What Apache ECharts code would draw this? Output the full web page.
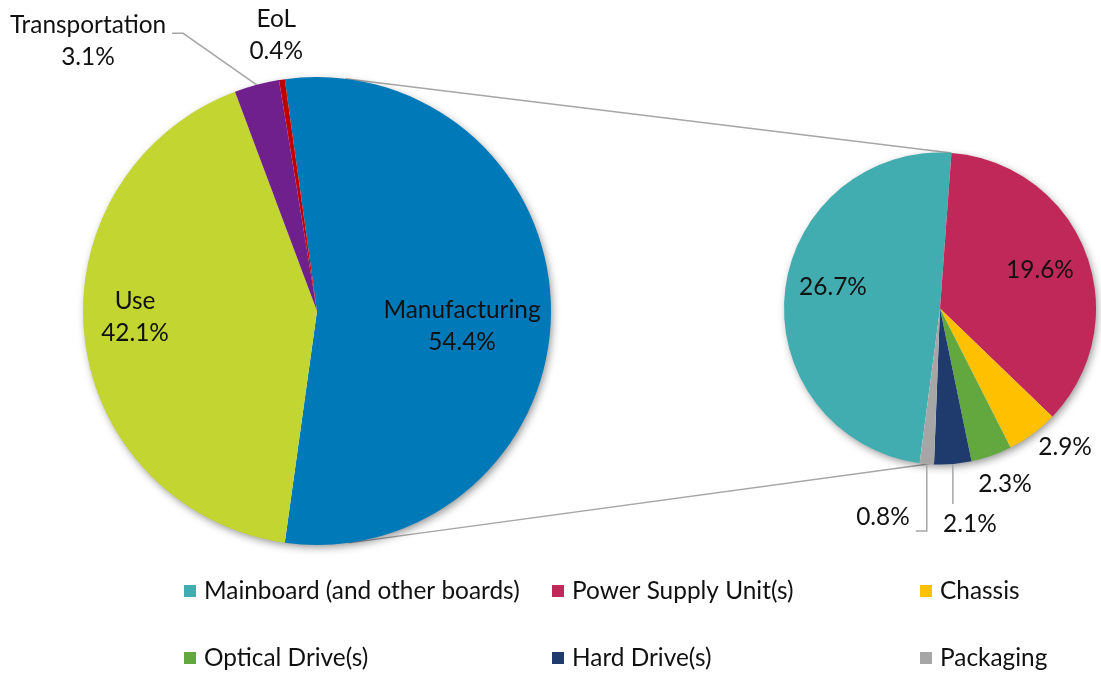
<!DOCTYPE html>
<html><head><meta charset="utf-8">
<script src="https://cdn.jsdelivr.net/npm/echarts@6/dist/echarts.min.js"></script>
<style>html,body{margin:0;padding:0;background:#fff}#c{width:1101px;height:673px}</style>
</head><body><div id="c"></div>
<script>
// ---- data ----
const mainCategories = ['Manufacturing', 'Use', 'Transportation', 'EoL'];
const mainValues = [54.4, 42.1, 3.1, 0.4];
const subCategories = ['Mainboard (and other boards)', 'Power Supply Unit(s)', 'Chassis', 'Optical Drive(s)', 'Hard Drive(s)', 'Packaging'];
const subValues = [26.7, 19.6, 2.9, 2.3, 2.1, 0.8];

// ---- style ----
const mainColors = ['#0079b8', '#c2d531', '#6f208c', '#c00000'];
const subColors = ['#42adb0', '#c0285a', '#ffc000', '#63a83e', '#1f3b6e', '#a6a6a6'];
const FONT = 'Lato';
const FS = 24.4;
const TEXT = '#111';
const LEFT = {cx: 317, cy: 311, r: 234};
const RIGHT = {cx: 940, cy: 308.5, r: 156};
const subTop = 4.2; // compass angle of the boundary at the top of the second pie
// label anchors: [compass angle, radius multiple]
const mainLabelPos = [[95.9, 0.623], [268.1, 0.778], [319.7, 1.513], [351.6, 1.192]];
const subLabelPos = [[281.4, 0.70], [68.9, 0.687], [137.9, 1.196], [159.7, 1.2], [172.1, 1.395], [195.3, 1.386]];
const mainLeaders = [null, null, 'elbowLeft', null];
const subLeaders = [null, null, null, null, 'down', 'downLeft'];
const legendX = [184, 552, 920];

const sum = a => a.reduce((s, v) => s + v, 0);
const mainSum = sum(mainValues), subSum = sum(subValues);
const mainStart = mainValues[0] / mainSum * 360 / 2;           // first slice centred at 3 o'clock
const subStart = 90 - subTop + subValues[0] / subSum * 360;     // first slice ends at the top boundary

function mids(vals, total, startMath) {
  let c = 0; const startCompass = 90 - startMath;
  return vals.map(v => { const m = startCompass + (c + v / 2) / total * 360; c += v; return m; });
}
const mainMid = mids(mainValues, mainSum, mainStart);
const subMid = mids(subValues, subSum, subStart);

function polar(g, deg, k) {
  const a = deg * Math.PI / 180;
  return [g.cx + k * g.r * Math.sin(a), g.cy - k * g.r * Math.cos(a)];
}
function tangent(g, P, sign) {
  const dx = P[0] - g.cx, dy = P[1] - g.cy, d = Math.hypot(dx, dy);
  const phi = Math.atan2(dy, dx), al = Math.acos(g.r / d);
  const a = phi + sign * al;
  return [g.cx + g.r * Math.cos(a), g.cy + g.r * Math.sin(a)];
}
const pTop = polar(RIGHT, subTop, 1), pBot = polar(RIGHT, subTop + 180, 1);
const tTop = tangent(LEFT, pTop, -1), tBot = tangent(LEFT, pBot, 1);

function placeLabel(g, pos, leaders, midArr, p) {
  const i = p.dataIndex;
  const [x, y] = polar(g, pos[i][0], pos[i][1]);
  const w = p.labelRect.width, h = p.labelRect.height;
  const out = {x: x, y: y, align: 'center', verticalAlign: 'middle'};
  const kind = leaders[i];
  if (kind) {
    const e = polar(g, midArr[i], 1);
    const R = x + w / 2, T = y - h / 2, B = y + h / 2;
    if (kind === 'elbowLeft') { const yy = T + 0.38 * h; out.labelLinePoints = [e, [R + 17, yy], [R + 6, yy]]; }
    if (kind === 'down') { out.labelLinePoints = [e, [e[0], (e[1] + T - 4) / 2], [e[0], T - 4]]; }
    if (kind === 'downLeft') { const yy = B - 2; out.labelLinePoints = [e, [e[0], yy], [R + 6, yy]]; }
  }
  return out;
}

const labelBase = {show: true, position: 'outside', color: TEXT, fontFamily: FONT, fontSize: FS, lineHeight: 32};
const lineStyle = {color: '#a6a6a6', width: 1.5};

const option = {
  animation: false,
  backgroundColor: '#fff',
  graphic: [
    {type: 'line', z: 0, silent: true, shape: {x1: tTop[0], y1: tTop[1], x2: pTop[0], y2: pTop[1]}, style: {stroke: '#a6a6a6', lineWidth: 1.5}},
    {type: 'line', z: 0, silent: true, shape: {x1: tBot[0], y1: tBot[1], x2: pBot[0], y2: pBot[1]}, style: {stroke: '#a6a6a6', lineWidth: 1.5}},
    {type: 'circle', z: 1, silent: true, shape: {cx: LEFT.cx, cy: LEFT.cy, r: LEFT.r - 1}, style: {fill: '#fff', shadowBlur: 8, shadowOffsetX: 2, shadowOffsetY: 3, shadowColor: 'rgba(0,0,0,0.45)'}},
    {type: 'circle', z: 1, silent: true, shape: {cx: RIGHT.cx, cy: RIGHT.cy, r: RIGHT.r - 1}, style: {fill: '#fff', shadowBlur: 8, shadowOffsetX: 2, shadowOffsetY: 3, shadowColor: 'rgba(0,0,0,0.45)'}}
  ],
  legend: [0, 1, 2].map(c => ({
    orient: 'vertical', left: legendX[c], top: 576, padding: 0,
    itemWidth: 12, itemHeight: 12, itemGap: 37, icon: 'rect', selectedMode: false,
    data: [subCategories[c], subCategories[c + 3]],
    textStyle: {fontFamily: FONT, fontSize: FS, color: TEXT, lineHeight: 30, padding: [0, 0, 0, 3]}
  })),
  series: [
    {
      type: 'pie', z: 2, center: [LEFT.cx, LEFT.cy], radius: LEFT.r, startAngle: mainStart, clockwise: true,
      avoidLabelOverlap: false, silent: true,
      label: Object.assign({}, labelBase, {formatter: p => p.name + '\n' + p.value.toFixed(1) + '%'}),
      labelLine: {show: true, lineStyle: lineStyle},
      labelLayout: p => placeLabel(LEFT, mainLabelPos, mainLeaders, mainMid, p),
      data: mainCategories.map((n, i) => ({name: n, value: mainValues[i], itemStyle: {color: mainColors[i]}, labelLine: {show: !!mainLeaders[i]}}))
    },
    {
      type: 'pie', z: 2, center: [RIGHT.cx, RIGHT.cy], radius: RIGHT.r, startAngle: subStart, clockwise: true,
      avoidLabelOverlap: false, silent: true,
      label: Object.assign({}, labelBase, {formatter: p => p.value.toFixed(1) + '%'}),
      labelLine: {show: true, lineStyle: lineStyle},
      labelLayout: p => placeLabel(RIGHT, subLabelPos, subLeaders, subMid, p),
      data: subCategories.map((n, i) => ({name: n, value: subValues[i], itemStyle: {color: subColors[i]}, labelLine: {show: !!subLeaders[i]}}))
    }
  ]
};
echarts.init(document.getElementById('c')).setOption(option);
</script></body></html>
